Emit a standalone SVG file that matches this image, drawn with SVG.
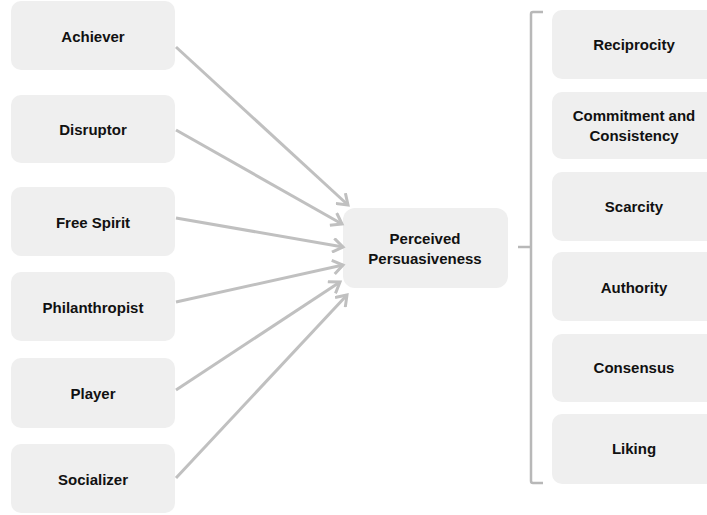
<svg xmlns="http://www.w3.org/2000/svg" width="707" height="515" viewBox="0 0 707 515">
<style>
.box{fill:#efefef;}
.lbl{font-family:"Liberation Sans",Arial,sans-serif;font-weight:bold;font-size:15px;fill:#111;text-anchor:middle;}
.edge{stroke:#c0c0c0;stroke-width:3;fill:none;marker-end:url(#arr);}
.br{stroke:#b8b8b8;stroke-width:2.5;fill:none;}
</style>
<defs>
<marker id="arr" markerUnits="userSpaceOnUse" markerWidth="16" markerHeight="16" refX="13" refY="8" orient="auto">
<path d="M3,1 L13,8 L3,15" fill="none" stroke="#c0c0c0" stroke-width="3"/>
</marker>
</defs>
<rect width="707" height="515" fill="#fff"/>
<g id="achiever"><rect class="box" x="11" y="1" width="164" height="69" rx="10"/><text class="lbl" x="93" y="42">Achiever</text></g>
<g id="disruptor"><rect class="box" x="11" y="95" width="164" height="68" rx="10"/><text class="lbl" x="93" y="135">Disruptor</text></g>
<g id="freespirit"><rect class="box" x="11" y="187" width="164" height="69" rx="10"/><text class="lbl" x="93" y="228">Free Spirit</text></g>
<g id="philanthropist"><rect class="box" x="11" y="272" width="164" height="69" rx="10"/><text class="lbl" x="93" y="313">Philanthropist</text></g>
<g id="player"><rect class="box" x="11" y="358" width="164" height="70" rx="10"/><text class="lbl" x="93" y="399">Player</text></g>
<g id="socializer"><rect class="box" x="11" y="444" width="164" height="69" rx="10"/><text class="lbl" x="93" y="485">Socializer</text></g>
<g id="perceived"><rect class="box" x="343" y="208" width="165" height="80" rx="12"/><text class="lbl" x="425" y="244">Perceived</text><text class="lbl" x="425" y="264">Persuasiveness</text></g>
<g id="reciprocity"><rect class="box" x="552" y="10" width="164" height="69" rx="10"/><text class="lbl" x="634" y="50">Reciprocity</text></g>
<g id="commitment"><rect class="box" x="552" y="92" width="164" height="67" rx="10"/><text class="lbl" x="634" y="121">Commitment and</text><text class="lbl" x="634" y="141">Consistency</text></g>
<g id="scarcity"><rect class="box" x="552" y="172" width="164" height="69" rx="10"/><text class="lbl" x="634" y="212">Scarcity</text></g>
<g id="authority"><rect class="box" x="552" y="252" width="164" height="69" rx="10"/><text class="lbl" x="634" y="293">Authority</text></g>
<g id="consensus"><rect class="box" x="552" y="334" width="164" height="68" rx="10"/><text class="lbl" x="634" y="373">Consensus</text></g>
<g id="liking"><rect class="box" x="552" y="414" width="164" height="70" rx="10"/><text class="lbl" x="634" y="454">Liking</text></g>
<g id="connectors">
<line class="edge" x1="176" y1="47" x2="348" y2="205"/>
<line class="edge" x1="176" y1="130" x2="342" y2="224"/>
<line class="edge" x1="176" y1="218" x2="343" y2="247"/>
<line class="edge" x1="176" y1="302" x2="343" y2="265"/>
<line class="edge" x1="176" y1="390" x2="340" y2="282"/>
<line class="edge" x1="176" y1="478" x2="347" y2="295"/>
<path class="br" d="M543,12 L533,12 Q531,12 531,14 L531,481 Q531,483 533,483 L543,483"/>
<line class="br" x1="518" y1="247" x2="531" y2="247"/>
</g>
</svg>
